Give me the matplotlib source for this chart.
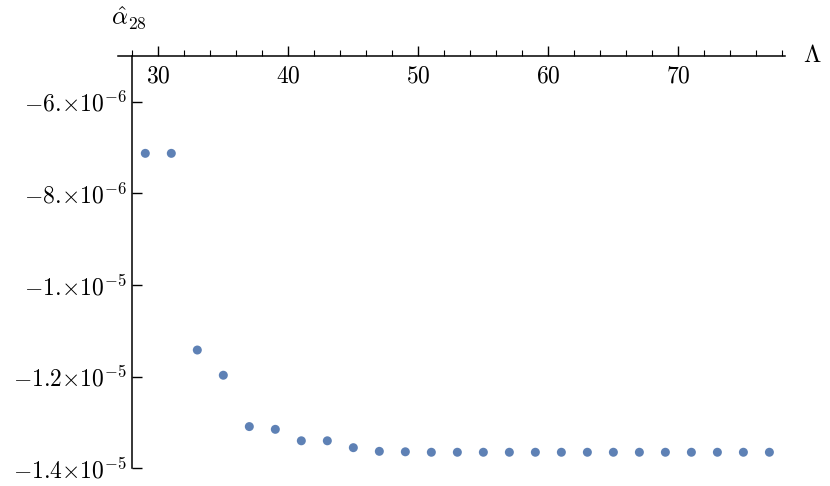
import matplotlib
matplotlib.use("Agg")
import matplotlib.pyplot as plt
from matplotlib.ticker import FixedLocator, MultipleLocator

plt.rcParams['mathtext.fontset'] = 'cm'
plt.rcParams['font.family'] = 'serif'

# data
lam = [29, 31, 33, 35, 37, 39, 41, 43, 45, 47, 49, 51, 53, 55, 57, 59,
       61, 63, 65, 67, 69, 71, 73, 75, 77]
alpha28 = [-7.13e-6, -7.13e-6, -1.142e-5, -1.197e-5, -1.309e-5, -1.315e-5,
           -1.340e-5, -1.340e-5, -1.355e-5, -1.363e-5, -1.364e-5,
           -1.365e-5, -1.365e-5, -1.365e-5, -1.365e-5, -1.365e-5,
           -1.365e-5, -1.365e-5, -1.365e-5, -1.365e-5, -1.365e-5,
           -1.365e-5, -1.365e-5, -1.365e-5, -1.365e-5]
x_ticks = [30, 40, 50, 60, 70]
y_ticks = [-1.4e-5, -1.2e-5, -1e-5, -8e-6, -6e-6]
y_labels = [r'$-1.4{\times}10^{-5}$', r'$-1.2{\times}10^{-5}$',
            r'$-1.\!{\times}10^{-5}$', r'$-8.\!{\times}10^{-6}$',
            r'$-6.\!{\times}10^{-6}$']

fig = plt.figure(figsize=(8.3, 4.86), dpi=100)
ax = fig.add_axes([118 / 830, 1 - 468.3 / 486, (785 - 118) / 830, (468.3 - 55.7) / 486])

ax.scatter(lam, alpha28, s=42, color='#5E81B5', edgecolors='none', zorder=3)

ax.set_xlim(26.9, 78.2)
ax.set_ylim(-1.4e-5, -5e-6)

# Mathematica style axes crossing at (28, -5e-6)
ax.spines['right'].set_visible(False)
ax.spines['top'].set_visible(False)
ax.spines['left'].set_position(('data', 28))
ax.spines['bottom'].set_position(('data', -5e-6))
for s in ('left', 'bottom'):
    ax.spines[s].set_linewidth(1.1)

ax.xaxis.set_major_locator(FixedLocator(x_ticks))
ax.xaxis.set_minor_locator(MultipleLocator(2))
ax.set_xticklabels([r'$%d$' % t for t in x_ticks])
ax.set_yticks(y_ticks)
ax.set_yticklabels(y_labels)

ax.tick_params(axis='x', which='major', direction='in', length=7, width=1, labelsize=17, pad=6)
ax.tick_params(axis='x', which='minor', direction='in', length=4, width=0.8)
ax.tick_params(axis='y', which='major', direction='in', length=7.5, width=1, labelsize=17, pad=4)

fig.text(785 / 830 + 0.022, 1 - 55.7 / 486, r'$\Lambda$', fontsize=18, va='center', ha='left')
fig.text(129 / 830, 1 - 18 / 486, r'$\hat{\alpha}_{28}$', fontsize=18, va='center', ha='center')

fig.savefig("out.png", dpi=100)
